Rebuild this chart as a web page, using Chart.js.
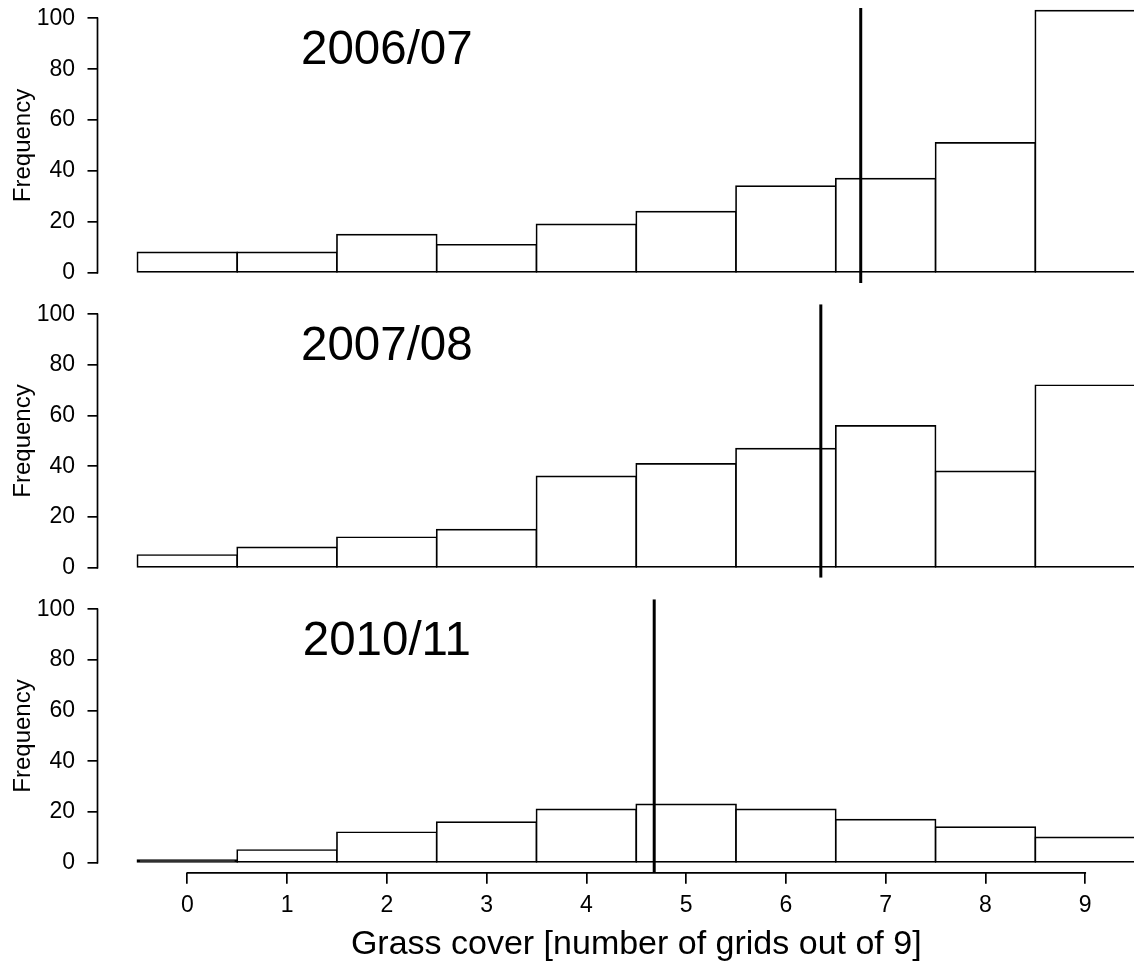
<!DOCTYPE html>
<html>
<head>
<meta charset="utf-8">
<title>Grass cover histograms</title>
<script src="https://cdn.jsdelivr.net/npm/chart.js@4.4.1/dist/chart.umd.min.js"></script>
<style>
  html, body { margin: 0; padding: 0; background: #fff; width: 1134px; height: 968px; overflow: hidden; }
  canvas { position: absolute; left: 0; }
</style>
</head>
<body>
<canvas id="panel0"></canvas>
<canvas id="panel1"></canvas>
<canvas id="panel2"></canvas>
<script>
// grass cover classes (grids out of 9) and counts per season
const grassCover = [0, 1, 2, 3, 4, 5, 6, 7, 8, 9];
const seasons = ['2006/07', '2007/08', '2010/11'];
const freq0607 = [8, 8, 15, 11, 19, 24, 34, 37, 51, 103];
const freq0708 = [5, 8, 12, 15, 36, 41, 47, 56, 38, 72];
const freq1011 = [1, 5, 12, 16, 21, 23, 21, 17, 14, 10];
const refLines = [6.75, 6.35, 4.68];
const yTicks = [0, 20, 40, 60, 80, 100];
const xTicks = [0, 1, 2, 3, 4, 5, 6, 7, 8, 9];

const FONT = '"Liberation Sans", Arial, Helvetica, sans-serif';

// axis ranges padded the way R does it (4% each side)
const X_MIN = -0.9, X_MAX = 9.9;
const Y_MIN = -4, Y_MAX = 104;
const LABEL_X = 2, LABEL_Y = 82;

// plot regions on the page
const boxes = [
  { top: 8.1, bottom: 282.9 },
  { top: 304.2, bottom: 577.8 },
  { top: 599.2, bottom: 872.8 }
];
const PAGE_H = 968;
const PLOT_W = 1175;
const Y_AXIS_W = 97.5;
const MARGIN = 34;   // room above/below each plot so tick labels never push the area

// R-style axis lines (only between first and last tick) and the season label
const rStyle = {
  id: 'rStyle',
  afterDraw(chart, args, opts) {
    const { ctx, chartArea, scales: { x, y } } = chart;
    ctx.save();
    ctx.strokeStyle = '#000';
    ctx.lineWidth = 1.7;
    ctx.lineCap = 'square';
    ctx.beginPath();
    ctx.moveTo(chartArea.left, y.getPixelForValue(yTicks[0]));
    ctx.lineTo(chartArea.left, y.getPixelForValue(yTicks[yTicks.length - 1]));
    if (opts.xAxis) {
      ctx.moveTo(x.getPixelForValue(xTicks[0]), chartArea.bottom);
      ctx.lineTo(x.getPixelForValue(xTicks[xTicks.length - 1]), chartArea.bottom);
    }
    ctx.stroke();

    ctx.fillStyle = '#000';
    ctx.font = '47.5px ' + FONT;
    ctx.textAlign = 'center';
    ctx.textBaseline = 'alphabetic';
    ctx.fillText(opts.label, x.getPixelForValue(LABEL_X), y.getPixelForValue(LABEL_Y));
    ctx.restore();
  }
};

function makePanel(i, freqs, lineAt) {
  const showX = i === boxes.length - 1;
  const box = boxes[i];
  const canvas = document.getElementById('panel' + i);
  const canvasTop = Math.floor(box.top) - MARGIN;
  const canvasH = showX ? PAGE_H - canvasTop : Math.ceil(box.bottom) + MARGIN - canvasTop;
  canvas.width = PLOT_W;
  canvas.height = canvasH;
  canvas.style.top = canvasTop + 'px';

  new Chart(canvas.getContext('2d'), {
    type: 'bar',
    data: {
      datasets: [{
        type: 'line',
        data: [{ x: lineAt, y: Y_MIN }, { x: lineAt, y: Y_MAX }],
        borderColor: '#000',
        borderWidth: 3,
        pointRadius: 0,
        order: 0
      }, {
        type: 'bar',
        data: grassCover.map((c, k) => ({ x: c, y: freqs[k] })),
        // a single-count bar is thinner than its own outline, so it reads as solid
        backgroundColor: c => (c.raw && c.raw.y <= 1 ? '#000' : '#fff'),
        borderColor: '#000',
        borderWidth: 1.7,
        borderSkipped: false,
        inflateAmount: 0.85,
        barPercentage: 1,
        categoryPercentage: 1,
        order: 1
      }]
    },
    options: {
      responsive: false,
      animation: false,
      devicePixelRatio: 1,
      layout: {
        padding: {
          top: box.top - canvasTop,
          bottom: showX ? 0 : canvasH - (box.bottom - canvasTop),
          left: 0,
          right: 0
        }
      },
      plugins: {
        legend: { display: false },
        tooltip: { enabled: false },
        rStyle: { label: seasons[i], xAxis: showX }
      },
      scales: {
        x: {
          type: 'linear',
          min: X_MIN,
          max: X_MAX,
          offset: false,
          display: showX,
          afterBuildTicks: s => { s.ticks = xTicks.map(v => ({ value: v })); },
          afterFit: s => { if (showX) s.height = PAGE_H - box.bottom; },
          grid: { offset: false, drawOnChartArea: false, drawTicks: true, tickLength: 11, color: '#000', lineWidth: 1.7 },
          border: { display: false },
          ticks: {
            color: '#000',
            font: { family: FONT, size: 23 },
            padding: 8,
            maxRotation: 0,
            autoSkip: false,
            callback: v => String(v)
          },
          title: {
            display: true,
            text: 'Grass cover [number of grids out of 9]',
            color: '#000',
            font: { family: FONT, size: 34 },
            padding: { top: 0, bottom: 2.6 }
          }
        },
        y: {
          min: Y_MIN,
          max: Y_MAX,
          afterBuildTicks: s => { s.ticks = yTicks.map(v => ({ value: v })); },
          afterFit: s => { s.width = Y_AXIS_W; },
          grid: { drawOnChartArea: false, drawTicks: true, tickLength: 10, color: '#000', lineWidth: 1.7 },
          border: { display: false },
          ticks: {
            color: '#000',
            font: { family: FONT, size: 23 },
            padding: 12.5,
            callback: v => String(v)
          },
          title: {
            display: true,
            text: 'Frequency',
            color: '#000',
            font: { family: FONT, size: 24 },
            padding: { top: 9, bottom: 0 }
          }
        }
      }
    },
    plugins: [rStyle]
  });
}

makePanel(0, freq0607, refLines[0]);
makePanel(1, freq0708, refLines[1]);
makePanel(2, freq1011, refLines[2]);
</script>
</body>
</html>
